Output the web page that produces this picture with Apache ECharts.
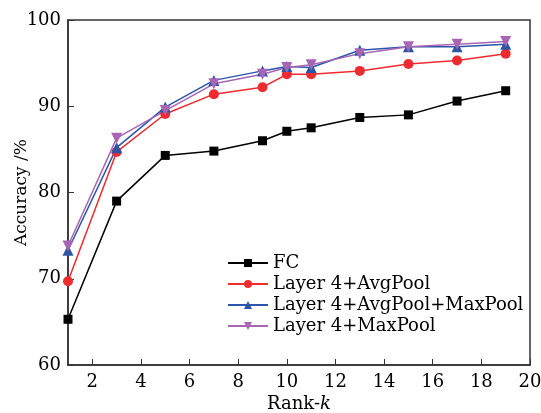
<!DOCTYPE html>
<html>
<head>
<meta charset="utf-8">
<script src="https://cdn.jsdelivr.net/npm/echarts@6/dist/echarts.min.js"></script>
</head>
<body style="margin:0">
<div id="main" style="width:541px;height:413px;"></div>
<script>
// Rank-k 取值
var rankK = [1, 3, 5, 7, 9, 10, 11, 13, 15, 17, 19];
var xTicks = [2, 4, 6, 8, 10, 12, 14, 16, 18, 20];
var fc = [65.3, 79.0, 84.3, 84.8, 86.0, 87.1, 87.5, 88.7, 89.0, 90.6, 91.8];
var avgPool = [69.7, 84.7, 89.1, 91.4, 92.2, 93.7, 93.7, 94.1, 94.9, 95.3, 96.1];
var avgMaxPool = [73.3, 85.2, 89.9, 93.0, 94.1, 94.6, 94.5, 96.5, 96.9, 96.9, 97.2];
var maxPool = [73.8, 86.3, 89.5, 92.6, 93.7, 94.5, 94.8, 96.1, 96.9, 97.2, 97.5];

function pairs(ys) {
    return rankK.map(function (k, i) { return [k, ys[i]]; });
}

var font = 'DejaVu Serif';
var myChart = echarts.init(document.getElementById('main'));

function mkSeries(name, ys, color, symbol, size, rot) {
    return {
        name: name,
        type: 'line',
        data: pairs(ys),
        symbol: symbol,
        symbolSize: size,
        symbolRotate: rot || 0,
        lineStyle: { color: color, width: 1.5 },
        itemStyle: { color: color },
        animation: false
    };
}

var option = {
    grid: {
        left: 68, right: 11, top: 20, bottom: 48,
        outerBoundsMode: 'none',
        show: true, borderColor: '#333', borderWidth: 1.5
    },
    legend: {
        orient: 'vertical',
        left: 222,
        top: 248,
        itemWidth: 40,
        itemHeight: 10,
        itemGap: 1,
        textStyle: { fontFamily: font, fontSize: 18, color: '#000', lineHeight: 20 },
        data: ['FC', 'Layer 4+AvgPool', 'Layer 4+AvgPool+MaxPool', 'Layer 4+MaxPool']
    },
    xAxis: {
        type: 'value',
        min: 1,
        max: 20,
        name: '{a|Rank-}{b|k}',
        nameLocation: 'middle',
        nameGap: 30,
        nameMoveOverlap: false,
        nameTextStyle: {
            rich: {
                a: { fontFamily: font, fontSize: 18, color: '#000' },
                b: { fontFamily: font, fontSize: 18, fontStyle: 'italic', color: '#000' }
            }
        },
        axisLine: { lineStyle: { color: '#333', width: 1.5 } },
        axisTick: { inside: true, length: 6, customValues: xTicks, lineStyle: { color: '#333' } },
        axisLabel: { customValues: xTicks, fontFamily: font, fontSize: 18, color: '#000', margin: 8 },
        splitLine: { show: false }
    },
    yAxis: {
        type: 'value',
        min: 60,
        max: 100,
        interval: 10,
        name: 'Accuracy /%',
        nameLocation: 'middle',
        nameGap: 38,
        nameMoveOverlap: false,
        nameTextStyle: { fontFamily: font, fontSize: 17, color: '#000' },
        axisLine: { lineStyle: { color: '#333', width: 1.5 } },
        axisTick: { inside: true, length: 6, lineStyle: { color: '#333' } },
        axisLabel: { fontFamily: font, fontSize: 18, color: '#000', margin: 7 },
        splitLine: { show: false }
    },
    series: [
        mkSeries('FC', fc, '#000000', 'rect', 9),
        mkSeries('Layer 4+AvgPool', avgPool, '#ee2b2e', 'circle', 10),
        mkSeries('Layer 4+AvgPool+MaxPool', avgMaxPool, '#2a55a8', 'triangle', 11),
        mkSeries('Layer 4+MaxPool', maxPool, '#a765b3', 'triangle', 11, 180)
    ]
};
myChart.setOption(option);
</script>
</body>
</html>
